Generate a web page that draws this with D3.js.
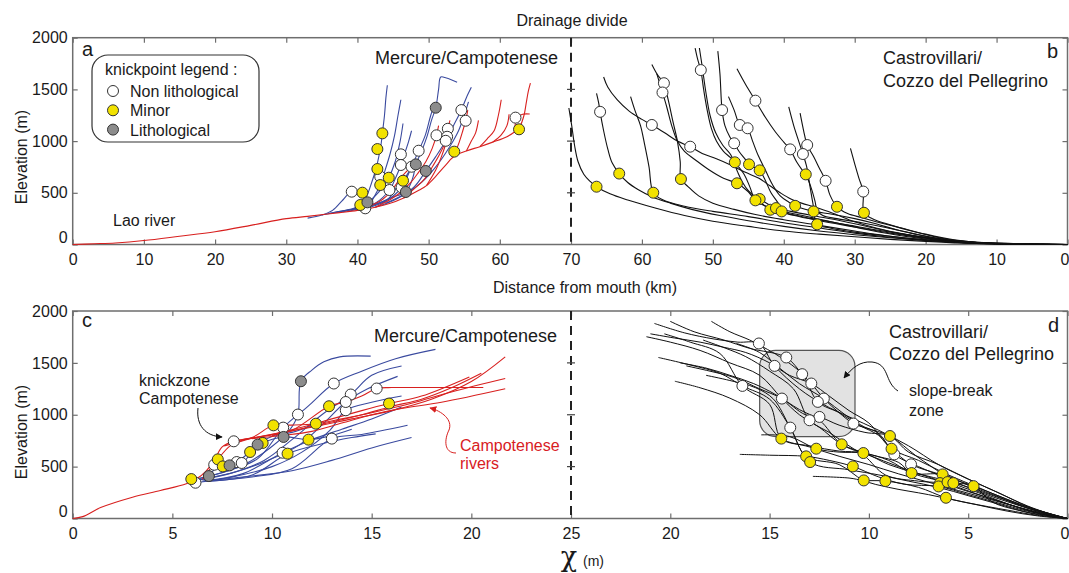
<!DOCTYPE html>
<html>
<head>
<meta charset="utf-8">
<script src="https://cdn.jsdelivr.net/npm/d3@7"></script>
<style>
body { margin: 0; background: #fff; }
text { font-family: "Liberation Sans", Arial, sans-serif; fill: #1a1a1a; }
</style>
</head>
<body>
<svg id="chart" width="1069" height="573"></svg>
<script>
// ---- tick labels ----
var distTicksLeft = [0, 10, 20, 30, 40, 50, 60, 70];
var distTicksRight = [60, 50, 40, 30, 20, 10, 0];
var chiTicksLeft = [0, 5, 10, 15, 20, 25];
var chiTicksRight = [20, 15, 10, 5, 0];
var elevTicks = [0, 500, 1000, 1500, 2000];

// ---- panel a : Mercure/Campotenese, distance (km), elevation (m) ----
var aRed = [
  [[0,0],[3,7],[6,15],[10,38],[15,80],[20,124],[25,185],[30,250],[33,272],[35.5,292],[37.5,308],[40,330],[42.5,360],[44.6,398],[46.5,450],[48.5,520],[49.7,570],[51,660],[52.3,760],[53.5,849],[55.3,905],[57.2,946],[59,990],[61,1043],[62.1,1090],[62.8,1139],[63.4,1250],[63.7,1365],[64,1480],[64.3,1560]],
  [[40,330],[42,380],[43.6,440],[44.8,520],[45.8,620],[46.8,700],[47.6,752]],
  [[42.5,360],[44.5,430],[46,500],[47.5,600],[48.6,700],[49.6,800],[50.5,930],[51.1,1056],[51.4,1150]],
  [[46.5,450],[48,540],[49.5,640],[50.6,760],[51.6,880],[52.4,1003],[52.7,1119],[53,1200]],
  [[49.7,570],[51,720],[51.8,850],[52.3,950],[52.6,1042],[52.8,1150]],
  [[53.5,849],[54.3,990],[54.8,1100],[55.2,1197],[55.5,1300]],
  [[55.3,905],[56,1000],[56.6,1080],[57,1200]],
  [[57.2,946],[58.2,1020],[59.2,1100],[59.8,1250],[60.2,1400]],
  [[59,990],[60.2,1060],[61,1150],[61.3,1260]],
  [[62.1,1090],[62.4,1227],[63.2,1260],[64.2,1262]]
];
var aBlue = [
  [[33,255],[35,285],[36.5,330],[37.8,420],[38.6,480],[39.2,511],[39.8,540]],
  [[35,285],[37.5,320],[39.5,350],[40.4,382],[41.3,470],[42,600],[42.6,730],[43,850],[43.3,960],[43.5,1075],[43.8,1250],[44,1420],[44.2,1540]],
  [[36,300],[38.5,330],[40.3,345],[41.1,350],[42,420],[42.8,520],[43.2,575],[43.8,700],[44.6,880],[45.2,1050],[45.7,1250],[46.1,1400]],
  [[37,310],[39.5,345],[41.4,408],[42.5,470],[43.6,560],[44.4,646],[45.3,800],[46,1000],[46.4,1170]],
  [[38,318],[40.5,360],[42.5,400],[44.5,527],[45.4,650],[46.1,769],[46.6,872],[47.2,1000],[47.6,1100]],
  [[39,325],[42,380],[44.3,440],[45.6,560],[46.4,617],[47.2,700]],
  [[40,330],[43,400],[45,460],[46.8,508],[47.8,650],[48.2,775],[49,900],[49.8,1050],[50.4,1200],[51,1323],[51.4,1500],[51.7,1620],[52.5,1610],[54,1570]],
  [[41,345],[44,420],[46.2,553],[47.6,752],[48.6,907],[49.5,1050],[50.3,1250],[50.8,1350]],
  [[42.5,360],[45.5,440],[48,560],[49.6,711],[51,850],[52.4,1000],[53.5,1150],[54.6,1300],[55.3,1420],[56,1520]],
  [[44,400],[47,500],[49,600],[51,750],[53,950],[54.2,1100],[55,1250],[55.6,1380]]
];
var aWhite = [[39.2,511],[41.1,350],[43.2,656],[44.5,527],[46.1,872],[46.1,769],[46.2,553],[47.6,752],[48.6,907],[51.1,1056],[52.7,1119],[52.6,1042],[52.4,1003],[54.6,1300],[55.2,1197],[62.2,1227]];
var aYellow = [[43.5,1075],[42.8,923],[42.8,730],[40.7,501],[40.4,382],[43.2,575],[44.4,646],[46.4,617],[53.6,898],[62.7,1114]];
var aGrey = [[51.0,1323],[48.2,775],[49.6,711],[46.8,508],[41.4,408]];

// ---- panel b : Castrovillari/Cozzo del Pellegrino, distance (km) ----
var bRivers = [
  [[70.3,1320],[69.9,1150],[69.5,960],[69,800],[68.2,680],[67.3,610],[66.4,559],[64.5,490],[62,430],[58,350],[54,280],[50,225],[45,175],[40,130],[35,100],[30,75],[25,50],[20,30],[15,14],[10,6],[5,2],[0,0]],
  [[66.4,1462],[66.1,1370],[65.9,1283],[65.4,1100],[64.8,920],[64.2,790],[63.2,686],[62,600],[60.5,530],[58.5,460],[56,400],[53,340],[49,280],[45,230],[40,175],[35,130],[30,95],[25,65],[20,40],[15,18],[10,7],[0,0]],
  [[65.4,1620],[64.8,1520],[63.5,1400],[61.8,1290],[60,1210],[58.6,1156],[56.8,1080],[55,1000],[53.2,946],[51.5,880],[49.5,830],[47.5,770],[45.5,700],[43.5,640],[42,570],[40.5,500],[39,440],[37.5,400],[35.5,360],[33,300],[30,220],[27,160],[23,100],[18,45],[13,15],[8,5],[0,0]],
  [[61.6,1430],[61,1300],[60.2,1150],[59.6,960],[59,750],[58.4,501],[57,430],[54,370],[50,320],[45,270],[40,210],[35,160],[30,110],[25,70],[20,40],[14,15],[0,0]],
  [[58.6,1740],[57.8,1640],[56.9,1560],[56.3,1400],[55.6,1180],[55,1000],[54.6,800],[54.5,633],[53.5,560],[52,470],[50,400],[47,340],[44,290],[40,240],[35,185],[30,130],[25,80],[20,45],[15,18],[0,0]],
  [[57.9,1650],[57.1,1470],[56.5,1330],[55.8,1150],[55,1000],[54,900],[52.5,820],[50.5,720],[48.5,640],[46.6,592],[45,510],[44,427],[42.5,370],[40,320],[36,260],[32,200],[28,140],[23,80],[18,40],[12,12],[0,0]],
  [[52.5,1900],[52.1,1780],[51.7,1687],[51.3,1500],[50.8,1300],[50.2,1120],[49.5,1000],[48.5,900],[47.5,840],[46.9,795],[45.6,680],[44.8,560],[44,427],[42.8,380],[41.9,336],[39.5,300],[36,250],[31,190],[26,130],[21,80],[16,40],[10,10],[0,0]],
  [[51.9,1900],[51.5,1720],[51,1480],[50.4,1250],[49.6,1080],[48.6,960],[47.5,870],[46.5,700],[45.8,600],[45,520],[44.2,470],[43.4,440],[42.2,390],[41.1,352],[39,320],[36,280],[32,230],[28,170],[24,110],[19,55],[14,20],[0,0]],
  [[49.3,1870],[49,1650],[48.7,1300],[48.3,1150],[47.6,1040],[47,979],[46.3,900],[45.5,830],[44.9,775],[44,740],[43.4,717],[42.6,620],[41.8,500],[40.8,400],[40.3,320],[38.5,280],[35,230],[30,170],[25,110],[20,60],[15,25],[0,0]],
  [[47.8,1430],[47,1300],[46.2,1156],[45.6,1140],[45.1,1124],[44.4,1000],[43.6,860],[42.6,720],[41.6,580],[40.5,470],[39.3,410],[38.4,374],[37,340],[35.8,320],[33,290],[30,250],[27,200],[24,140],[20,80],[15,30],[0,0]],
  [[46.6,1700],[45.4,1550],[44,1391],[42.6,1230],[41.2,1090],[40,990],[39.1,920],[38.2,800],[37.4,720],[36.9,678],[36.2,560],[35.6,420],[35.3,330],[34.5,280],[32.5,250],[29,210],[26,170],[22,110],[18,55],[13,18],[0,0]],
  [[39.3,1330],[38.6,1150],[37.9,1000],[37.3,875],[36.8,760],[36.3,560],[35.9,400],[35.3,195],[33.5,160],[30,120],[25,80],[20,45],[15,20],[0,0]],
  [[37.7,1270],[37.2,1100],[36.7,962],[35.8,850],[35,740],[34.1,616],[33.5,480],[32.5,365],[31,300],[29,260],[27,220],[24,170],[20,100],[16,45],[12,15],[0,0]],
  [[30.6,930],[30,780],[29.4,640],[28.8,512],[28.7,307],[27.5,250],[25,190],[22,130],[19,80],[16,40],[12,15],[0,0]]
];
var bWhite = [[65.9,1283],[58.6,1156],[56.9,1560],[57.1,1470],[51.7,1687],[53.2,946],[48.7,1300],[46.2,1156],[45.1,1124],[47.0,979],[44.0,1391],[39.1,920],[36.7,962],[37.3,875],[34.1,616],[28.8,512]];
var bYellow = [[66.4,559],[63.2,686],[58.4,501],[54.5,633],[46.9,795],[46.6,592],[44.9,775],[43.4,717],[43.4,440],[44.0,427],[41.9,336],[41.1,352],[40.3,320],[38.4,374],[36.9,678],[35.8,320],[35.3,195],[32.5,365],[28.7,307]];

// ---- panel c : Mercure/Campotenese, chi (m) ----
var cRed = [
  [[0,0],[0.5,18],[1.4,105],[3,205],[4.4,270],[5.7,335],[6.2,380],[6.7,460],[7.1,560],[7.5,690],[8.08,744],[9,775],[10.5,830],[12,880],[14,960],[16,1040],[18,1150],[20,1320],[21.7,1558]],
  [[7.6,700],[9,780],[10.07,898],[11,900],[12.2,914],[13.5,960],[15,1020],[17,1110],[19,1220],[21.7,1349]],
  [[8.2,750],[9.5,790],[11,850],[12.86,1082],[13.7,1123],[14.5,1180],[15.25,1253],[16,1262],[18,1262],[20.6,1262]],
  [[8.5,760],[10,810],[11.5,880],[13,960],[14.5,1040],[15.87,1108],[17.5,1180],[19.9,1365]],
  [[9,770],[10.5,800],[12,840],[13.5,920],[15,1000],[16.5,1060],[18.5,1120],[21.7,1250]],
  [[10,800],[11.83,880],[13,930],[14.5,1000],[16,1080],[17.5,1150],[19,1260],[20.5,1400]],
  [[6.5,380],[7.28,570],[7.9,700],[8.6,760]]
];
var cBlue = [
  [[6,370],[7.5,440],[8.8,540],[9.9,680],[10.87,850],[11.3,1002],[11.45,1323],[12,1430],[12.6,1510],[13.4,1558],[14.95,1565]],
  [[6.2,380],[7.8,460],[9.3,580],[10.56,876],[11.8,1080],[13.1,1301],[14.5,1420],[16.2,1540],[18.2,1630]],
  [[6.3,370],[8,440],[9.6,560],[11,760],[12.5,1000],[13.95,1195],[15,1380],[16.5,1470]],
  [[6.4,375],[8.2,450],[9.8,560],[11.3,700],[12.5,900],[13.7,1123],[14.8,1250],[16.3,1370]],
  [[6.16,345],[8,400],[10,500],[11.5,640],[12.9,850],[13.7,1043],[15,1120],[16.5,1180]],
  [[6.5,360],[8.5,430],[10.53,634],[12,760],[13.5,860],[15,960],[16.5,1075]],
  [[6.6,360],[9,420],[10.78,625],[12.5,720],[14,780],[15.2,816]],
  [[6.8,360],[9,400],[11,480],[13,770],[14.5,810],[16.8,898]],
  [[7,370],[9,410],[11,460],[13,560],[15,680],[17,780]],
  [[6.83,409],[7.3,500],[7.87,512],[8.23,544],[8.9,641],[9.53,728],[10.58,786],[11.83,760],[13,800],[14,860]],
  [[7.1,518],[8.48,535],[9.28,712],[10.1,800],[11,830],[12.2,914]]
];
var cWhite = [[6.16,345],[8.08,744],[7.1,518],[8.23,544],[8.48,535],[10.56,876],[10.53,634],[11.3,1002],[13.1,1301],[13.0,770],[13.7,1043],[13.95,1195],[13.7,1123],[15.25,1253]];
var cYellow = [[5.95,380],[7.28,570],[7.53,502],[8.9,641],[9.53,728],[10.07,898],[10.78,625],[11.83,760],[12.2,914],[12.86,1082],[15.87,1108]];
var cGrey = [[6.83,409],[7.87,512],[9.28,712],[10.58,786],[11.45,1323]];

// ---- panel d : Castrovillari/Cozzo del Pellegrino, chi (m) ----
var dRivers = [
  [[20.8,1880],[19.3,1790],[17.8,1730],[16.6,1700],[15.54,1687],[14.75,1471],[13.5,1250],[12.3,1100],[11,980],[9.5,850],[8,700],[6.5,520],[5,380],[3.5,250],[2,120],[0.8,40],[0,0]],
  [[20.0,1900],[18.8,1800],[17.3,1720],[16,1640],[14.16,1552],[13.36,1391],[12.9,1301],[12.27,1156],[11.5,1020],[10.78,915],[9.5,820],[8.72,618],[7.5,500],[6,380],[4.5,260],[3,160],[1.5,70],[0,0]],
  [[21.2,1752],[20,1700],[18.5,1620],[17,1500],[15.5,1380],[14.38,1156],[13.5,1000],[12.5,880],[11.37,715],[10,620],[8.5,540],[7.85,438],[6.29,425],[5,320],[3.5,210],[2,100],[0,0]],
  [[20.6,1552],[19,1480],[17.5,1400],[16.37,1278],[15,1150],[13.96,876],[13.16,599],[11.5,520],[10.26,367],[9,300],[7,230],[5,150],[3,80],[1.5,30],[0,0]],
  [[19.77,1323],[18.5,1260],[17,1160],[15.5,1000],[14.41,770],[13,690],[11.5,600],[10,520],[8.5,430],[7,350],[5.5,270],[4,190],[2.5,110],[1,40],[0,0]],
  [[17.93,1900],[17,1800],[16,1720],[15.3,1650],[14.5,1560],[13.36,1391],[12.57,1124],[11.5,1020],[10.5,900],[9.5,800],[8.86,673],[7.88,522],[6.5,430],[5,330],[3.5,220],[2,110],[0,0]],
  [[19.19,1471],[18,1420],[16.8,1360],[15.5,1250],[14.38,1156],[13.2,1000],[12.49,979],[11.5,900],[10.2,830],[8.94,795],[8,640],[6.5,520],[5,380],[3.5,250],[1.8,100],[0,0]],
  [[18.35,1720],[17.2,1640],[16.2,1560],[15,1420],[13.8,1250],[12.99,947],[12,830],[11,700],[10.2,600],[9.17,420],[7.5,360],[6.42,341],[5,260],[3.5,170],[2,80],[0,0]],
  [[16.5,618],[15,610],[13.16,599],[12,560],[10.81,502],[9.5,400],[8.2,330],[6.49,309],[5,230],[3.5,150],[2,70],[0,0]],
  [[12.82,406],[11,390],[10.26,367],[9.17,361],[7.5,300],[6.12,200],[4.5,130],[3,70],[1.5,25],[0,0]],
  [[15.42,806],[14,790],[12.65,673],[11.5,640],[10.28,631],[9,560],[7.85,438],[6.04,351],[4.73,312],[3.8,160],[2.5,80],[1,20],[0,0]],
  [[16.67,1687],[15.5,1600],[14.5,1450],[13.5,1300],[12.27,1156],[11.2,1000],[10.2,880],[8.94,795],[7.6,600],[6.29,425],[5.75,341],[4.5,250],[3,140],[1.5,50],[0,0]],
  [[21,1780],[19.8,1740],[18.5,1700],[17.3,1650],[16.2,1600],[15,1500],[14,1380],[12.9,1301],[12,1180],[11,1040],[10,920],[8.86,673],[7.5,560],[6,420],[4.5,300],[3,180],[1.5,80],[0,0]],
  [[18.2,1380],[17,1330],[15.7,1260],[14.8,1150],[13.96,876],[12.96,544],[11,470],[9.5,420],[8,360],[6.5,300],[5,220],[3.5,140],[2,60],[0,0]],
  [[20.3,1780],[19,1700],[17.5,1590],[16.37,1278],[15,1100],[14.41,770],[13,700],[11.5,650],[10.28,631],[9,520],[7.5,430],[6,360],[4.5,270],[3,170],[1.5,70],[0,0]],
  [[19.5,1500],[18.2,1450],[17,1380],[15.8,1300],[14.75,1200],[13.5,1050],[12.5,950],[11.37,715],[10,610],[8.5,500],[7,400],[5.5,300],[4,200],[2.5,110],[1,30],[0,0]]
];
var dWhite = [[15.54,1687],[14.16,1552],[14.75,1471],[13.36,1391],[12.9,1301],[16.37,1278],[12.27,1156],[12.57,1124],[14.38,1156],[12.49,979],[12.99,947],[13.96,876],[10.78,915],[8.72,618],[7.88,522]];
var dYellow = [[14.41,770],[13.16,599],[12.96,544],[12.65,673],[11.37,715],[10.28,631],[10.81,502],[10.26,367],[9.17,361],[8.94,795],[8.86,673],[7.85,438],[6.29,425],[6.42,341],[6.49,309],[6.04,351],[5.75,341],[6.12,200],[4.73,312]];
var slopeBreakZone = { chi: [15.5, 10.7], elev: [1620, 790] };

// ---- layout ----
var svg = d3.select("#chart");
var left = 72.7, mid = 571, right = 1067.5;
var xA = d3.scaleLinear().domain([0, 70]).range([left, mid]);
var xB = d3.scaleLinear().domain([70, 0]).range([mid, right]);
var yTop = d3.scaleLinear().domain([0, 2000]).range([244.5, 37.7]);
var xC = d3.scaleLinear().domain([0, 25]).range([left, mid]);
var xD = d3.scaleLinear().domain([25, 0]).range([mid, right]);
var yBot = d3.scaleLinear().domain([0, 2000]).range([518.5, 311]);

var red = "#d8201f", blue = "#3a4a9f", frameCol = "#6e6e6e";

var defs = svg.append("defs");
function marker(id, col) {
  defs.append("marker").attr("id", id).attr("viewBox", "0 0 10 10")
    .attr("refX", 9).attr("refY", 5).attr("markerWidth", 7).attr("markerHeight", 7)
    .attr("orient", "auto")
    .append("path").attr("d", "M0,0 L10,5 L0,10 z").attr("fill", col);
}
marker("arrBlack", "#111");
marker("arrRed", red);

function styleAxis(g) {
  g.select(".domain").remove();
  g.selectAll(".tick line").attr("stroke", frameCol).attr("stroke-width", 1.2);
  g.selectAll(".tick text").attr("font-size", 16).attr("fill", "#1a1a1a");
}

function drawFrame(xl, xr, y, ticksL, ticksR, pad) {
  var y0 = y.range()[0], y1 = y.range()[1];
  var g = svg.append("g");
  g.append("g").attr("transform", "translate(0," + y0 + ")")
    .call(d3.axisBottom(xl).tickValues(ticksL).tickSize(-5).tickPadding(pad)).call(styleAxis);
  var xrAxis = g.append("g").attr("transform", "translate(0," + y0 + ")")
    .call(d3.axisBottom(xr).tickValues(ticksR).tickSize(-5).tickPadding(pad)).call(styleAxis);
  // last "0" sits on the page edge, nudge it in a little
  xrAxis.selectAll(".tick text").filter(function(d) { return d === 0; }).attr("dx", "-3");
  g.append("g").attr("transform", "translate(0," + y1 + ")")
    .call(d3.axisTop(xl).tickValues(ticksL).tickSize(-5).tickFormat("")).call(styleAxis);
  g.append("g").attr("transform", "translate(0," + y1 + ")")
    .call(d3.axisTop(xr).tickValues(ticksR).tickSize(-5).tickFormat("")).call(styleAxis);
  var ya = g.append("g").attr("transform", "translate(" + left + ",0)")
    .call(d3.axisLeft(y).tickValues(elevTicks).tickSize(-5).tickPadding(5).tickFormat(d3.format("d"))).call(styleAxis);
  ya.selectAll(".tick text").filter(function(d) { return d === 0; }).attr("dy", "-0.1em");
  g.append("g").attr("transform", "translate(" + right + ",0)")
    .call(d3.axisRight(y).tickValues(elevTicks).tickSize(-5).tickFormat("")).call(styleAxis);
  g.append("rect").attr("x", left).attr("y", y1).attr("width", right - left).attr("height", y0 - y1)
    .attr("fill", "none").attr("stroke", frameCol).attr("stroke-width", 1.5);
  // drainage divide
  g.append("line").attr("x1", mid).attr("x2", mid).attr("y1", y1).attr("y2", y0)
    .attr("stroke", "#222").attr("stroke-width", 2).attr("stroke-dasharray", "9,6");
  g.selectAll(".divtick").data([500, 1000, 1500]).enter().append("line")
    .attr("x1", mid - 4).attr("x2", mid + 4)
    .attr("y1", function(d) { return y(d); }).attr("y2", function(d) { return y(d); })
    .attr("stroke", "#444").attr("stroke-width", 1.2);
}

function drawRivers(data, x, y, col, w) {
  var line = d3.line().x(function(d) { return x(d[0]); }).y(function(d) { return y(d[1]); })
    .curve(d3.curveCatmullRom.alpha(0.5));
  svg.append("g").selectAll("path").data(data).enter().append("path")
    .attr("d", line).attr("fill", "none").attr("stroke", col).attr("stroke-width", w || 1.1);
}

function drawKnicks(data, x, y, fill) {
  svg.append("g").selectAll("circle").data(data).enter().append("circle")
    .attr("cx", function(d) { return x(d[0]); }).attr("cy", function(d) { return y(d[1]); })
    .attr("r", 5.5).attr("fill", fill).attr("stroke", "#333").attr("stroke-width", 1);
}

function label(x, y, str, size, opts) {
  opts = opts || {};
  return svg.append("text").attr("x", x).attr("y", y).text(str).attr("font-size", size)
    .attr("text-anchor", opts.anchor || "start").style("fill", opts.fill || "#1a1a1a");
}

// shaded slope-break zone (behind rivers)
svg.append("rect")
  .attr("x", xD(slopeBreakZone.chi[0])).attr("y", yBot(slopeBreakZone.elev[0]))
  .attr("width", xD(slopeBreakZone.chi[1]) - xD(slopeBreakZone.chi[0]))
  .attr("height", yBot(slopeBreakZone.elev[1]) - yBot(slopeBreakZone.elev[0]))
  .attr("rx", 16).attr("fill", "#e2e2e2").attr("stroke", "#555").attr("stroke-width", 1.2);

drawFrame(xA, xB, yTop, distTicksLeft, distTicksRight, 9);
drawFrame(xC, xD, yBot, chiTicksLeft, chiTicksRight, 9.5);

// panel a
drawRivers(aBlue, xA, yTop, blue);
drawRivers(aRed, xA, yTop, red);
drawKnicks(aWhite, xA, yTop, "#fff");
drawKnicks(aYellow, xA, yTop, "#f2e200");
drawKnicks(aGrey, xA, yTop, "#8c8c8c");
// panel b
drawRivers(bRivers, xB, yTop, "#111");
drawKnicks(bWhite, xB, yTop, "#fff");
drawKnicks(bYellow, xB, yTop, "#f2e200");
// panel c
drawRivers(cBlue, xC, yBot, blue);
drawRivers(cRed, xC, yBot, red);
drawKnicks(cWhite, xC, yBot, "#fff");
drawKnicks(cYellow, xC, yBot, "#f2e200");
drawKnicks(cGrey, xC, yBot, "#8c8c8c");
// panel d
drawRivers(dRivers, xD, yBot, "#111", 1);
drawKnicks(dWhite, xD, yBot, "#fff");
drawKnicks(dYellow, xD, yBot, "#f2e200");

// legend
svg.append("rect").attr("x", 92).attr("y", 55).attr("width", 167).attr("height", 87).attr("rx", 16)
  .attr("fill", "#fff").attr("stroke", "#333").attr("stroke-width", 1.2);
label(105, 75, "knickpoint legend :", 16);
var legendItems = [["Non lithological", "#fff"], ["Minor", "#f2e200"], ["Lithological", "#8c8c8c"]];
legendItems.forEach(function(it, i) {
  svg.append("circle").attr("cx", 113).attr("cy", 91 + i * 19.3).attr("r", 5.5)
    .attr("fill", it[1]).attr("stroke", "#333").attr("stroke-width", 1);
  label(130, 97 + i * 19.3, it[0], 16);
});

// texts
label(572, 26, "Drainage divide", 16, { anchor: "middle" });
label(585, 293, "Distance from mouth (km)", 16, { anchor: "middle" });
svg.append("text").attr("transform", "translate(27,157) rotate(-90)").attr("text-anchor", "middle")
  .attr("font-size", 16).text("Elevation (m)");
svg.append("text").attr("transform", "translate(27,432) rotate(-90)").attr("text-anchor", "middle")
  .attr("font-size", 16).text("Elevation (m)");
label(82, 56, "a", 20);
label(1047, 58, "b", 20);
label(82, 327, "c", 20);
label(1048, 332, "d", 20);
label(558, 64, "Mercure/Campotenese", 18, { anchor: "end" });
label(557, 342, "Mercure/Campotenese", 18, { anchor: "end" });
label(883, 64, "Castrovillari/", 18);
label(883, 87, "Cozzo del Pellegrino", 18);
label(889, 338, "Castrovillari/", 18);
label(889, 360, "Cozzo del Pellegrino", 18);
label(113, 226, "Lao river", 16);
label(139, 386, "knickzone", 16);
label(139, 404, "Campotenese", 16);
label(460, 451, "Campotenese", 16, { fill: red });
label(460, 469, "rivers", 16, { fill: red });
label(909, 396, "slope-break", 16);
label(909, 416, "zone", 16);
label(577, 566, "\u03C7", 27, { anchor: "end" }).style("font-family", "'DejaVu Serif', serif");
label(583, 566, "(m)", 14);

// arrows
svg.append("path").attr("d", "M198,408 C196,425 205,436 222,437")
  .attr("fill", "none").attr("stroke", "#111").attr("stroke-width", 1).attr("marker-end", "url(#arrBlack)");
svg.append("path").attr("d", "M456,453 C444,453 444,440 449,430 C453,420 442,411 430,408")
  .attr("fill", "none").attr("stroke", red).attr("stroke-width", 1).attr("marker-end", "url(#arrRed)");
svg.append("path").attr("d", "M898,391 C884,382 890,364 872,362 C860,361 852,368 844,378")
  .attr("fill", "none").attr("stroke", "#111").attr("stroke-width", 1).attr("marker-end", "url(#arrBlack)");
</script>
</body>
</html>
